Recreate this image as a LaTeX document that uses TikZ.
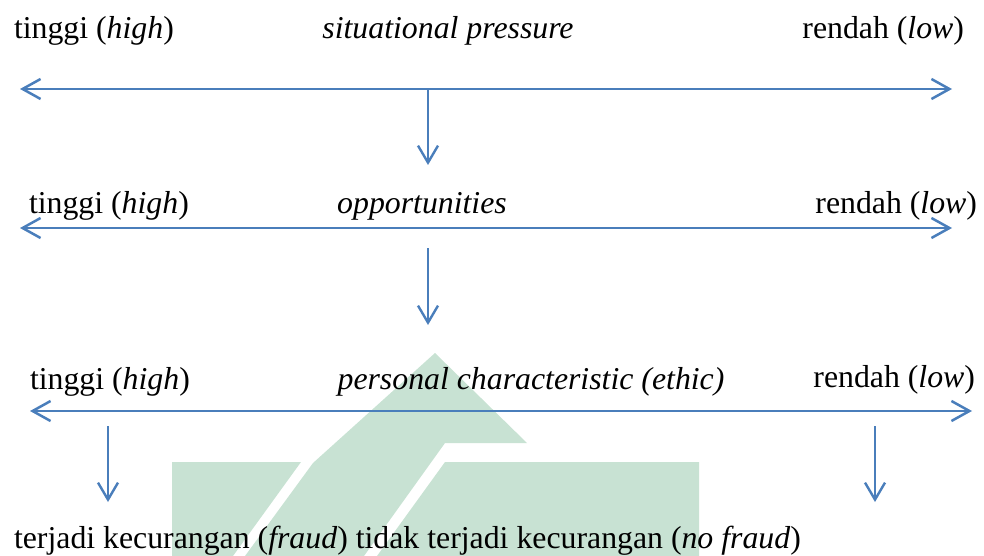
\documentclass[tikz,border=0pt]{standalone}
\usepackage{fontspec}
\setmainfont{Liberation Serif}
\usetikzlibrary{arrows.meta}
\definecolor{lineblue}{RGB}{74,126,187}
\definecolor{wmgreen}{RGB}{200,226,211}
\tikzset{
  lbl/.style={inner sep=0pt, outer sep=0pt, font=\fontsize{31.8pt}{36pt}\selectfont},
  scalearrow/.style={draw=lineblue, line width=2.5pt,
    {Straight Barb[length=18pt,width=20pt]}-{Straight Barb[length=18pt,width=20pt]}},
  downarrow/.style={draw=lineblue, line width=2.4pt,
    -{Straight Barb[length=17pt,width=20pt]}},
  wmark/.style={fill=wmgreen, draw=none}
}
\begin{document}
\begin{tikzpicture}[x=1pt,y=-1pt]
\useasboundingbox (0,0) rectangle (984,556);
% watermark
\fill[wmark] (435,353) -- (527,443) -- (445,443) -- (364,556) -- (245,556) -- (313,463) -- cycle;
\fill[wmark] (172,462) -- (301,462) -- (233,556) -- (172,556) -- cycle;
\fill[wmark] (445,462) -- (699,462) -- (699,556) -- (377,556) -- cycle;
% row 1
\node[lbl, anchor=base west] (h1) at (14,39) {tinggi (\textit{high})};
\node[lbl, anchor=base] (t1) at (448,39) {\textit{situational pressure}};
\node[lbl, anchor=base east] (l1) at (964,39) {rendah (\textit{low})};
\coordinate (a1l) at (20,89);
\coordinate (a1r) at (952,89);
\coordinate (d1s) at (428,89);
\coordinate (d1e) at (428,165);
\draw[scalearrow] (a1l) -- (a1r);
\draw[downarrow] (d1s) -- (d1e);
% row 2
\node[lbl, anchor=base west] (h2) at (29,213) {tinggi (\textit{high})};
\node[lbl, anchor=base] (t2) at (422,213) {\textit{opportunities}};
\node[lbl, anchor=base east] (l2) at (977,213) {rendah (\textit{low})};
\coordinate (a2l) at (20,228);
\coordinate (a2r) at (952,228);
\coordinate (d2s) at (428,248);
\coordinate (d2e) at (428,325);
\draw[scalearrow] (a2l) -- (a2r);
\draw[downarrow] (d2s) -- (d2e);
% row 3
\node[lbl, anchor=base west] (h3) at (30,389) {tinggi (\textit{high})};
\node[lbl, anchor=base] (t3) at (531,389) {\textit{personal characteristic (ethic)}};
\node[lbl, anchor=base east] (l3) at (975,387) {rendah (\textit{low})};
\coordinate (a3l) at (30,411);
\coordinate (a3r) at (972,411);
\draw[scalearrow] (a3l) -- (a3r);
\coordinate (d3s) at (108,426);
\coordinate (d3e) at (108,502);
\coordinate (d4s) at (875,426);
\coordinate (d4e) at (875,502);
\draw[downarrow] (d3s) -- (d3e);
\draw[downarrow] (d4s) -- (d4e);
% bottom
\node[lbl, anchor=base west] (res) at (14,548) {terjadi kecurangan (\textit{fraud}) tidak terjadi kecurangan (\textit{no fraud})};
\end{tikzpicture}
\end{document}
